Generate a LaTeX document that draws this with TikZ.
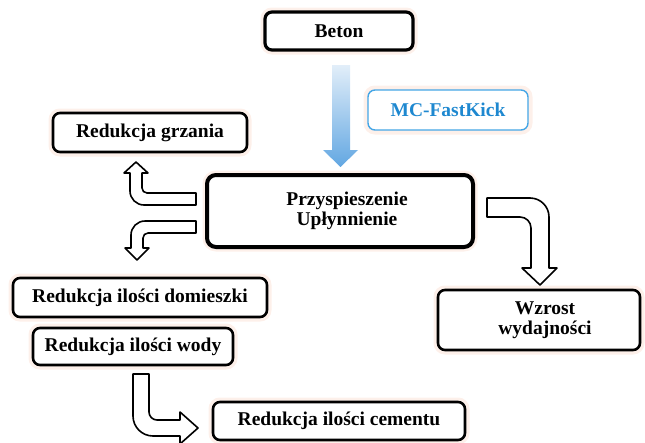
\documentclass[tikz,border=0pt]{standalone}
\usepackage{fontspec}
\setmainfont{Liberation Serif}
\definecolor{kickblue}{HTML}{1E88D0}
\definecolor{kickborder}{HTML}{45A6E6}
\definecolor{arrowtop}{HTML}{E2EEF9}
\definecolor{arrowbot}{HTML}{62A7E2}
\definecolor{halo}{HTML}{FDF0EA}
\tikzset{
  box/.style={draw=black, line width=2.6pt, rounded corners=7pt, fill=white,
    preaction={draw=halo, line width=9pt},
    inner sep=0pt, align=center, font=\bfseries\fontsize{19.5}{20.5}\selectfont},
  bigbox/.style={box, line width=4pt, rounded corners=9pt},
  kickbox/.style={box, draw=kickborder, line width=1.4pt, text=kickblue},
  hollow/.style={draw=black, line width=1.6pt, fill=white, line join=round},
}
\begin{document}
\begin{tikzpicture}[x=1pt,y=-1pt]
\useasboundingbox (0,0) rectangle (645,442);

% boxes
\node[box, line width=3.2pt, minimum width=148pt, minimum height=38pt] (beton) at (339,31) {Beton};
\node[kickbox, minimum width=160pt, minimum height=40pt] (kick) at (448,110) {MC-FastKick};
\node[bigbox, minimum width=266pt, minimum height=72pt] (main) at (340,211)
  {\hspace*{14pt}Przyspieszenie\\\hspace*{14pt}Upłynnienie};
\node[box, minimum width=194pt, minimum height=39pt] (grz) at (150,132.5) {Redukcja grzania};
\node[box, minimum width=254pt, minimum height=39pt] (dom) at (140,297.5) {Redukcja ilości domieszki};
\node[box, minimum width=200pt, minimum height=37pt] (wody) at (133,346.5) {Redukcja ilości wody};
\node[box, minimum width=252pt, minimum height=38pt] (cem) at (339,421) {Redukcja ilości cementu};
\node[box, minimum width=202pt, minimum height=60pt] (wzr) at (539,320)
  {\hspace*{12pt}Wzrost\\\hspace*{12pt}wydajności};

% blue arrow Beton -> main
\shade[top color=arrowtop, bottom color=arrowbot]
  (332,65) -- (350,65) -- (350,150) -- (358,150) -- (340.5,167) -- (323,150) -- (332,150) -- cycle;

% hollow arrow main -> Redukcja grzania
\draw[hollow] (196,193) -- (147,193) .. controls (144.24,193) and (142,190.76) .. (142,188)
  -- (142,173) -- (148,173) -- (136,162) -- (124,173) -- (130,173) -- (130,191)
  .. controls (130,198.73) and (136.27,205) .. (144,205) -- (196,205) -- cycle;

% hollow arrow main -> Redukcja ilosci domieszki
\draw[hollow] (196,221) -- (145,221) .. controls (137.27,221) and (131,227.27) .. (131,235)
  -- (131,248) -- (125,248) -- (137,260) -- (149,248) -- (143,248) -- (143,238)
  .. controls (143,235.24) and (145.24,233) .. (148,233) -- (196,233) -- cycle;

% hollow arrow Redukcja ilosci wody -> cementu
\draw[hollow] (133,374) -- (149,374) -- (149,412) .. controls (149,416.42) and (152.58,420) .. (157,420)
  -- (180,420) -- (180,412) -- (198,428) -- (180,444) -- (180,436) -- (153,436)
  .. controls (141.95,436) and (133,427.05) .. (133,416) -- cycle;

% hollow arrow main -> Wzrost
\draw[hollow] (487,198) -- (530,198) .. controls (540.5,198) and (549,206.5) .. (549,217)
  -- (549,268) -- (557,268) -- (540,285) -- (522,268) -- (531,268) -- (531,228)
  .. controls (531,221.9) and (526.1,217) .. (520,217) -- (487,217) -- cycle;
\end{tikzpicture}
\end{document}
